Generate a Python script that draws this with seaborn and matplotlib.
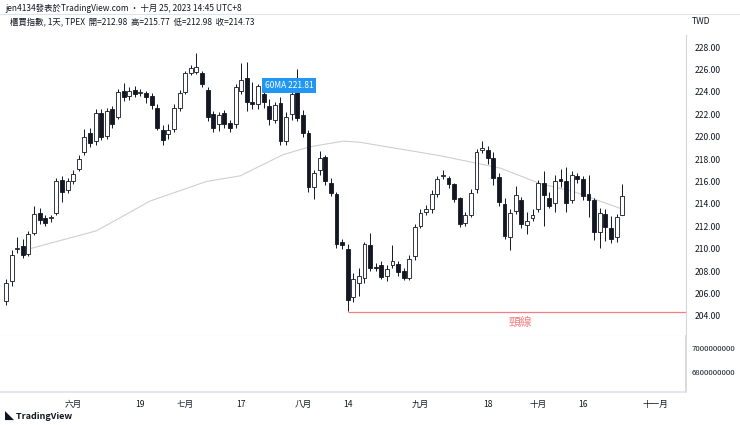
import matplotlib
matplotlib.use("Agg")
import matplotlib.pyplot as plt
import seaborn as sns
import numpy as np

sns.set_theme(style="white")
plt.rcParams['font.family'] = ['Noto Sans CJK TC', 'DejaVu Sans']

opens = [205.3,207.1,210.0,210.2,209.5,211.4,213.2,212.7,212.7,213.2,216.1,215.2,216.0,217.1,218.6,220.3,219.6,222.1,220.1,222.5,
         221.8,224.1,223.6,224.2,223.9,223.9,223.6,222.6,220.6,220.2,220.7,222.6,224.0,225.7,225.8,225.7,224.2,222.0,221.1,222.1,
         221.2,221.1,224.1,225.2,223.1,222.9,223.8,222.7,221.5,223.0,219.6,222.0,224.2,221.9,220.3,215.5,217.0,218.2,215.9,214.9,
         210.6,210.0,205.7,206.9,207.4,210.3,208.4,208.5,207.6,208.5,208.6,208.0,207.4,209.3,212.0,213.3,213.5,214.9,216.5,216.3,
         215.8,214.5,212.3,213.0,215.3,218.8,218.8,218.1,216.4,214.0,211.0,213.4,214.3,212.1,212.7,213.5,215.9,214.5,214.1,216.2,
         216.0,214.3,216.5,216.2,214.9,214.3,211.5,213.1,211.8,211.0,212.98]
closes = [206.9,209.4,210.1,209.4,211.3,213.1,212.6,212.3,212.8,216.0,215.1,216.0,216.7,218.0,220.0,219.4,222.1,220.0,222.3,221.1,
          224.0,223.5,224.1,223.8,224.0,223.5,222.8,220.8,219.7,220.6,222.6,223.9,225.7,226.1,226.2,224.7,221.8,220.8,221.9,221.1,
          220.8,224.4,225.1,223.1,222.9,224.5,223.1,221.6,222.8,219.6,221.8,223.8,221.7,220.3,215.5,216.8,218.1,216.0,215.0,210.4,
          210.3,205.4,207.3,207.6,210.4,208.3,208.3,207.5,208.2,208.9,207.9,207.4,209.1,211.9,213.2,213.5,214.9,216.2,216.6,215.8,
          214.4,212.2,213.0,215.0,218.6,219.0,218.1,216.3,214.2,211.1,213.2,214.8,212.2,212.5,213.0,215.9,214.8,213.8,216.0,216.0,
          214.1,216.6,216.2,214.7,214.3,211.5,213.2,211.9,210.9,212.8,214.73]
highs = [207.3,209.9,211.0,210.9,211.6,213.8,213.6,213.0,213.0,216.3,216.5,216.3,217.0,218.4,220.7,220.8,222.5,222.5,222.6,222.7,
         224.3,224.8,224.4,224.5,224.3,224.1,223.9,222.9,221.0,221.1,222.9,224.2,225.9,226.4,227.5,225.9,224.4,222.3,222.2,222.4,
         221.5,224.7,226.6,226.7,224.9,224.7,224.3,223.4,223.1,223.5,222.2,224.0,226.0,222.4,220.6,217.0,218.7,218.4,216.3,215.1,
         210.9,210.4,207.8,208.3,210.6,211.4,208.7,208.9,208.5,210.3,208.9,208.3,209.4,212.2,213.5,213.9,215.2,216.5,217.0,216.5,
         215.9,214.6,213.3,215.3,218.9,219.6,219.2,218.6,216.8,214.5,213.5,215.6,214.6,213.3,213.5,216.1,216.9,215.1,216.6,217.1,
         217.3,216.9,216.8,216.5,216.6,214.5,213.6,213.5,212.9,213.1,215.77]
lows = [205.0,206.7,209.6,209.2,209.3,211.2,212.2,212.0,212.4,213.0,214.2,215.0,215.8,216.9,218.4,219.1,219.3,219.7,219.8,220.8,
        221.6,223.2,223.3,223.5,223.6,223.0,222.5,220.6,219.3,219.8,220.4,222.3,223.8,225.5,225.6,224.4,221.4,220.4,220.5,220.8,
        220.4,220.8,223.8,222.3,222.5,222.5,222.6,221.0,221.2,219.3,219.3,221.5,221.4,220.0,215.1,214.4,216.6,215.7,214.7,210.1,
        210.0,204.4,205.2,205.8,206.9,208.0,208.0,207.3,207.1,208.3,207.6,207.2,207.2,209.0,211.8,213.0,213.2,214.6,216.2,215.4,
        214.2,211.9,212.0,212.8,215.0,218.5,217.6,215.7,213.8,210.9,209.9,213.1,211.8,211.3,212.5,213.3,212.0,213.6,213.3,215.5,
        213.3,214.1,215.9,214.3,212.8,210.8,210.1,210.7,210.5,210.6,212.98]

ma_idx = [4.3, 16.2, 25.7, 35.8, 41.8, 49.5, 54.3, 60.2, 63.2, 77.5, 88.2, 95.4, 101.3, 110.2]
ma_val = [210.0, 211.6, 214.25, 216.0, 216.5, 218.4, 219.1, 219.6, 219.5, 218.3, 217.2, 215.8, 215.1, 213.5]

date_pos = [12, 24, 32, 42, 53, 61, 74, 86, 95, 103, 116]
date_labels = ["六月", "19", "七月", "17", "八月", "14", "九月", "18", "十月", "16", "十一月"]
price_ticks = [228, 226, 224, 222, 220, 218, 216, 214, 212, 210, 208, 206, 204]
vol_ticks = [7000000000, 6800000000]
neckline = 204.36

W, H = 740, 425
fig = plt.figure(figsize=(7.4, 4.25), dpi=100)
fig.patch.set_facecolor("white")
ax = fig.add_axes([0, 1 - 336 / H, 686 / W, (336 - 35) / H])
axv = fig.add_axes([0, 1 - 392 / H, 686 / W, 56 / H])

dark = "#131722"
x = np.arange(len(opens))
o = np.array(opens); c = np.array(closes)
up = c >= o
ax.vlines(x, lows, highs, color=dark, lw=0.7, zorder=2)
bot = np.minimum(o, c); hgt = np.maximum(np.abs(c - o), 0.05)
ax.bar(x[up], hgt[up], bottom=bot[up], width=0.7, facecolor="white", edgecolor=dark, lw=0.6, zorder=3)
ax.bar(x[~up], hgt[~up], bottom=bot[~up], width=0.7, facecolor=dark, edgecolor=dark, lw=0.6, zorder=3)
sns.lineplot(x=ma_idx, y=ma_val, ax=ax, color="#cfcfcf", lw=0.8, zorder=1)

ax.hlines(neckline, 61, 125, color="#f77c80", lw=0.9, zorder=2)
ax.text(91.8, 203.45, "頸線", color="#f77c80", fontsize=8.5, ha="center", va="center")

ax.text(50.5, 224.6, "60MA 221.81", color="white", fontsize=6, ha="center", va="center",
        bbox=dict(boxstyle="square,pad=0.35", fc="#2196f3", ec="none"), zorder=5)

xl = (-1.07, 121.4)
ax.set_xlim(*xl); axv.set_xlim(*xl)
ax.set_ylim(202.2, 228 + 12 / 11.125)
ax.yaxis.tick_right()
ax.set_yticks(price_ticks)
ax.set_yticklabels([f"{v:.2f}" for v in price_ticks], fontsize=6.2, color=dark)
ax.tick_params(axis="y", length=0, pad=6)
ax.set_xticks([])
for s in ["top", "left"]:
    ax.spines[s].set_visible(False)
ax.spines["right"].set_color("#d6d6d6"); ax.spines["bottom"].set_color("#e0e3eb")
ax.spines["right"].set_linewidth(0.8); ax.spines["bottom"].set_linewidth(0.8)

axv.set_ylim(6.633e9, 7.1e9)
axv.yaxis.tick_right()
axv.set_yticks(vol_ticks)
axv.set_yticklabels([str(v) for v in vol_ticks], fontsize=5.6, color=dark)
axv.tick_params(axis="y", length=0, pad=4)
axv.set_xticks(date_pos)
axv.set_xticklabels(date_labels, fontsize=6.2, color=dark)
axv.tick_params(axis="x", length=0, pad=6)
axv.spines["top"].set_visible(False); axv.spines["left"].set_visible(False)
axv.spines["right"].set_color("#d6d6d6"); axv.spines["bottom"].set_color("#e0e3eb")

fig.text(5 / W, 1 - 8 / H, "jen4134發表於TradingView.com • 十月 25, 2023 14:45 UTC+8", fontsize=6, color=dark, va="center")
fig.text(10 / W, 1 - 22 / H, "櫃買指數, 1天, TPEX  開=212.98  高=215.77  低=212.98  收=214.73", fontsize=6, color=dark, va="center")
fig.text(692 / W, 1 - 21 / H, "TWD", fontsize=6.2, color=dark, va="center")
fig.add_artist(plt.Line2D([0, 1], [1 - 14 / H, 1 - 14 / H], color="#e0e3eb", lw=0.8))
fig.text(5 / W, 1 - 416 / H, "◣ TradingView", fontsize=6.5, color=dark, va="center", fontweight="bold")

fig.savefig("out.png", dpi=100)
